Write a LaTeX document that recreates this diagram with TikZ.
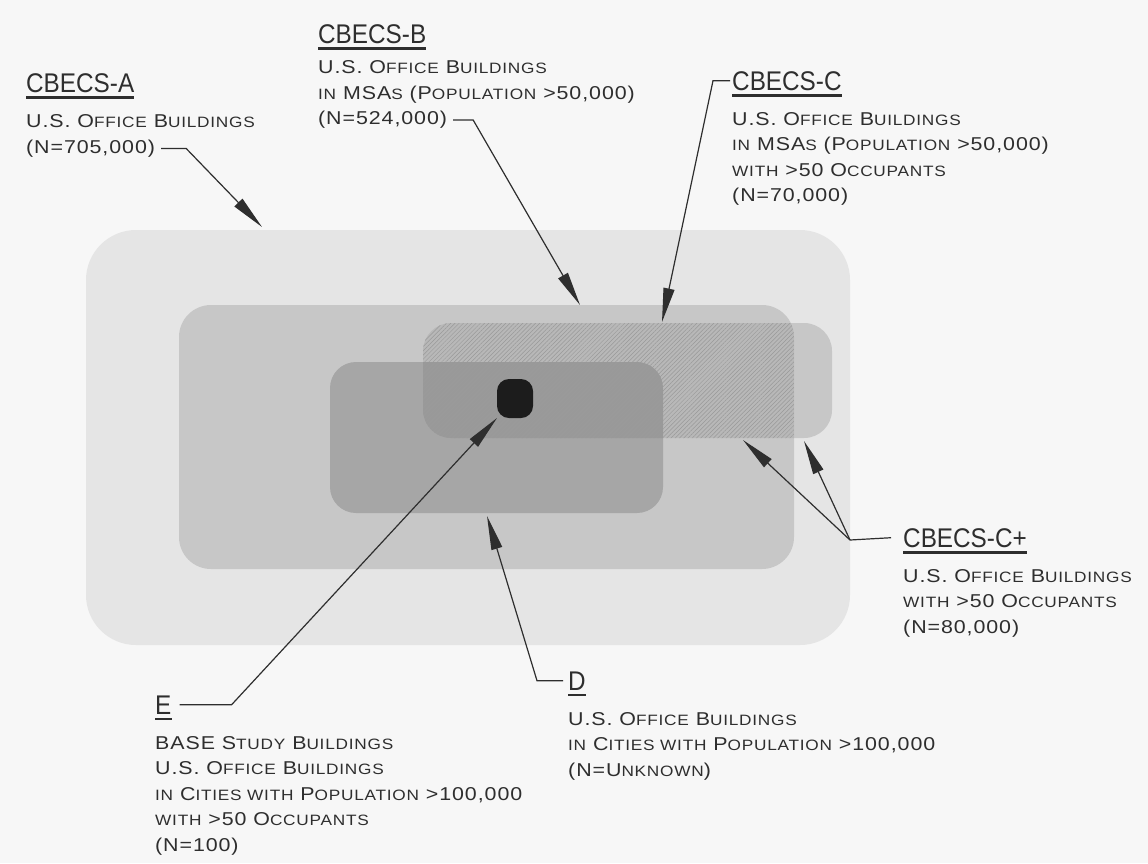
\documentclass[tikz,border=0pt]{standalone}
\usepackage{fontspec}
\setmainfont{Liberation Sans}[FakeStretch=1.15,LetterSpace=5]
\newfontfamily\ttlfont{Liberation Sans}[FakeStretch=0.9]
\usetikzlibrary{positioning,arrows.meta,patterns.meta}
\definecolor{paper}{HTML}{F7F7F7}
\definecolor{setA}{HTML}{E5E5E5}
\definecolor{setB}{HTML}{C7C7C7}
\definecolor{setD}{HTML}{A6A6A6}
\definecolor{setE}{HTML}{1C1C1C}
\definecolor{ink}{HTML}{2E2E2E}
\newcommand{\smc}[1]{{\fontsize{15}{25.5}\selectfont #1}}
\tikzset{
  >={Triangle[length=34pt,width=11pt]},
  x=1pt,y=-1pt,
  lead/.style={draw=ink,line width=1.2pt},
  leadarr/.style={lead,->},
  ttl/.style={anchor=base west,inner sep=0pt,text=ink,font=\ttlfont\fontsize{27}{27}\selectfont},
  body/.style={inner sep=0pt,align=left,text=ink,font=\fontsize{18.6}{25.5}\selectfont},
  uline/.style={draw=ink,line width=2.2pt},
  hatch/.style={pattern={Lines[angle=45,distance=3pt,line width=0.5pt]},pattern color=black!40},
}
\begin{document}
\begin{tikzpicture}
  \fill[paper] (0,0) rectangle (1148,863);
  \useasboundingbox (0,0) rectangle (1148,863);
  % nested sets
  \fill[setA,rounded corners=50pt] (86,230) rectangle (850,645);
  \fill[setB,rounded corners=32pt] (179,305) rectangle (794,569);
  \fill[setB,rounded corners=28pt] (423,323) rectangle (832,438);
  \fill[setD,rounded corners=26pt] (330,362) rectangle (663,513);
  \begin{scope}
    \clip[rounded corners=32pt] (179,305) rectangle (794,569);
    \fill[black,fill opacity=0.07,rounded corners=28pt] (423,323) rectangle (832,438);
    \fill[hatch,rounded corners=28pt] (423,323) rectangle (832,438);
  \end{scope}
  \fill[setE,rounded corners=12pt] (497,379) rectangle (533,418);

  % arrow tips
  \coordinate (tipA) at (262,227);
  \coordinate (tipB) at (580,305);
  \coordinate (tipC) at (662,322);
  \coordinate (tipCp1) at (743,440);
  \coordinate (tipCp2) at (804,441);
  \coordinate (tipD) at (487,516);
  \coordinate (tipE) at (497,418);

  % labels
  \node[ttl] (tA) at (26,92) {CBECS-A};
  \node[body,below right=21.6pt and 0pt of tA.south west] (bA)
    {U.S. O\smc{FFICE} B\smc{UILDINGS}};
  \node[body,below right=12pt and 0pt of bA.south west] (nA) {(N=705,000)};
  \node[ttl] (tB) at (318,43) {CBECS-B};
  \node[body,below right=17pt and 0pt of tB.south west] (bB)
    {U.S. O\smc{FFICE} B\smc{UILDINGS}\\\smc{IN} MSA\smc{S} (P\smc{OPULATION} >50,000)};
  \node[body,below right=8pt and 0pt of bB.south west] (nB) {(N=524,000)};
  \node[ttl] (tC) at (732,90) {CBECS-C};
  \node[body,below right=21.6pt and 0pt of tC.south west] (bC)
    {U.S. O\smc{FFICE} B\smc{UILDINGS}\\\smc{IN} MSA\smc{S} (P\smc{OPULATION} >50,000)\\\smc{WITH} >50 O\smc{CCUPANTS}\\(N=70,000)};
  \node[ttl] (tCp) at (903,547) {CBECS-C+};
  \node[body,below right=21.6pt and 0pt of tCp.south west] (bCp)
    {U.S. O\smc{FFICE} B\smc{UILDINGS}\\\smc{WITH} >50 O\smc{CCUPANTS}\\(N=80,000)};
  \node[ttl] (tD) at (568,690) {D};
  \node[body,below right=21.6pt and 0pt of tD.south west] (bD)
    {U.S. O\smc{FFICE} B\smc{UILDINGS}\\\smc{IN} C\smc{ITIES WITH} P\smc{OPULATION} >100,000\\(N=U\smc{NKNOWN})};
  \node[ttl] (tE) at (155,714) {E};
  \node[body,below right=21.6pt and 0pt of tE.south west] (bE)
    {BASE S\smc{TUDY} B\smc{UILDINGS}\\U.S. O\smc{FFICE} B\smc{UILDINGS}\\\smc{IN} C\smc{ITIES WITH} P\smc{OPULATION} >100,000\\\smc{WITH} >50 O\smc{CCUPANTS}\\(N=100)};
  \foreach \t in {tA,tB,tC,tCp,tD,tE}
    \draw[uline] ([yshift=-5pt]\t.south west) -- ([yshift=-5pt]\t.south east);

  % leaders
  \coordinate (kCp) at (850,540);
  \draw[leadarr] ([xshift=6pt]nA.east) -- ++(25,0) -- (tipA);
  \draw[leadarr] ([xshift=6pt]nB.east) -- ++(20,0) -- (tipB);
  \draw[leadarr] ([xshift=-2pt]tC.west) -- ++(-17,0) -- (tipC);
  \draw[lead] ([xshift=-12pt]tCp.west) -- (kCp);
  \draw[leadarr] (kCp) -- (tipCp1);
  \draw[leadarr] (kCp) -- (tipCp2);
  \draw[leadarr] ([xshift=-5pt]tD.west) -- ++(-26,0) -- (tipD);
  \draw[leadarr] ([xshift=8pt]tE.east) -- ++(52,0) -- (tipE);
\end{tikzpicture}
\end{document}
